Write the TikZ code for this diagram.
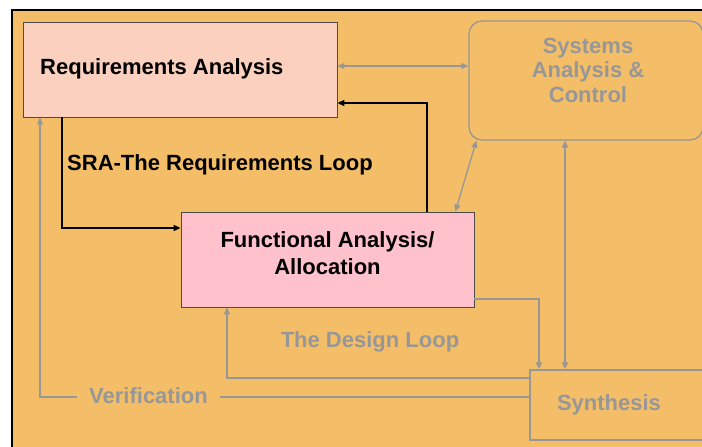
\documentclass[tikz,border=0pt]{standalone}
\usepackage{fontspec}
\setmainfont{Liberation Sans}
\usetikzlibrary{arrows.meta}
\definecolor{loopbg}{HTML}{F4BE68}
\definecolor{reqfill}{HTML}{FBD0BE}
\definecolor{funcfill}{HTML}{FFC1CC}
\definecolor{loopgray}{HTML}{979797}
\begin{document}
\begin{tikzpicture}[x=1pt,y=-1pt,
  every node/.style={font=\fontsize{22}{25}\selectfont\bfseries},
  blkbox/.style={draw=black!70,line width=0.8pt,inner sep=0pt},
  graybox/.style={draw=loopgray,line width=1.3pt,inner sep=0pt},
  blkarrow/.style={line width=1.4pt,-{Triangle[length=7pt,width=6pt]}},
  grayarrow/.style={draw=loopgray,line width=1.3pt,-{Triangle[length=7pt,width=6pt]}},
  graytext/.style={text=loopgray,inner sep=0pt}]
  \useasboundingbox (0,0) rectangle (702,447);
  \clip (0,0) rectangle (702,447);
  % frame and background
  \draw[line width=2pt,fill=loopbg] (12,10) rectangle (730,470);
  % the four blocks
  \node[blkbox,fill=reqfill,minimum width=314pt,minimum height=95pt] (ra) at (180,69.5) {};
  \node[graybox,rounded corners=13pt,minimum width=234pt,minimum height=119pt] (sac) at (586,80.5) {};
  \node[blkbox,fill=funcfill,minimum width=293pt,minimum height=95pt] (fa) at (327.5,259.5) {};
  \node[graybox,minimum width=182pt,minimum height=70pt] (syn) at (621,405) {};
  % block texts
  \node[anchor=base west,inner sep=0pt] (ratext) at (40,74) {Requirements Analysis};
  \node[graytext,anchor=base] (sactext1) at (588,53) {Systems};
  \node[graytext,anchor=base] (sactext2) at (588,77.5) {Analysis \&};
  \node[graytext,anchor=base] (sactext3) at (588,102) {Control};
  \node[anchor=base,inner sep=0pt] (fatext1) at (327.5,247.5) {Functional Analysis/};
  \node[anchor=base,inner sep=0pt] (fatext2) at (327.5,274) {Allocation};
  \node[graytext,anchor=base] (syntext) at (609,410) {Synthesis};
  % requirements loop (black)
  \draw[blkarrow] ([xshift=99.5pt]fa.north) |- ([yshift=-33.5pt]ra.east);
  \draw[blkarrow] ([xshift=-118pt]ra.south) |- ([yshift=31.5pt]fa.west);
  \node[anchor=base west,inner sep=0pt] (sraloop) at (67,170.5) {SRA-The Requirements Loop};
  % links to systems analysis & control
  \draw[grayarrow,{Triangle[length=7pt,width=6pt]}-{Triangle[length=7pt,width=6pt]}]
    ([yshift=3.5pt]ra.east) -- ([yshift=3.5pt]ra.east -| sac.west);
  \draw[grayarrow,{Triangle[length=7pt,width=6pt]}-{Triangle[length=7pt,width=6pt]}]
    ([xshift=8pt]sac.south west) -- ([xshift=-19pt]fa.north east);
  \draw[grayarrow,{Triangle[length=7pt,width=6pt]}-{Triangle[length=7pt,width=6pt]}]
    ([xshift=-21pt]sac.south) -- ([xshift=-21pt]sac.south |- syn.north);
  % design loop
  \draw[grayarrow] ([yshift=-39.5pt]fa.east) -| ([xshift=-82pt]syn.north);
  \draw[grayarrow] ([yshift=27pt]syn.west) -| ([xshift=-100.5pt]fa.south);
  \node[graytext,anchor=base] (designloop) at (370,347.5) {The Design Loop};
  % verification back to requirements
  \draw[grayarrow] ([yshift=8pt]syn.west) -| ([xshift=-140pt]ra.south);
  \node[graytext,fill=loopbg,inner xsep=12pt,inner ysep=2pt,anchor=base] (verif) at (148.5,403) {Verification};
\end{tikzpicture}
\end{document}
